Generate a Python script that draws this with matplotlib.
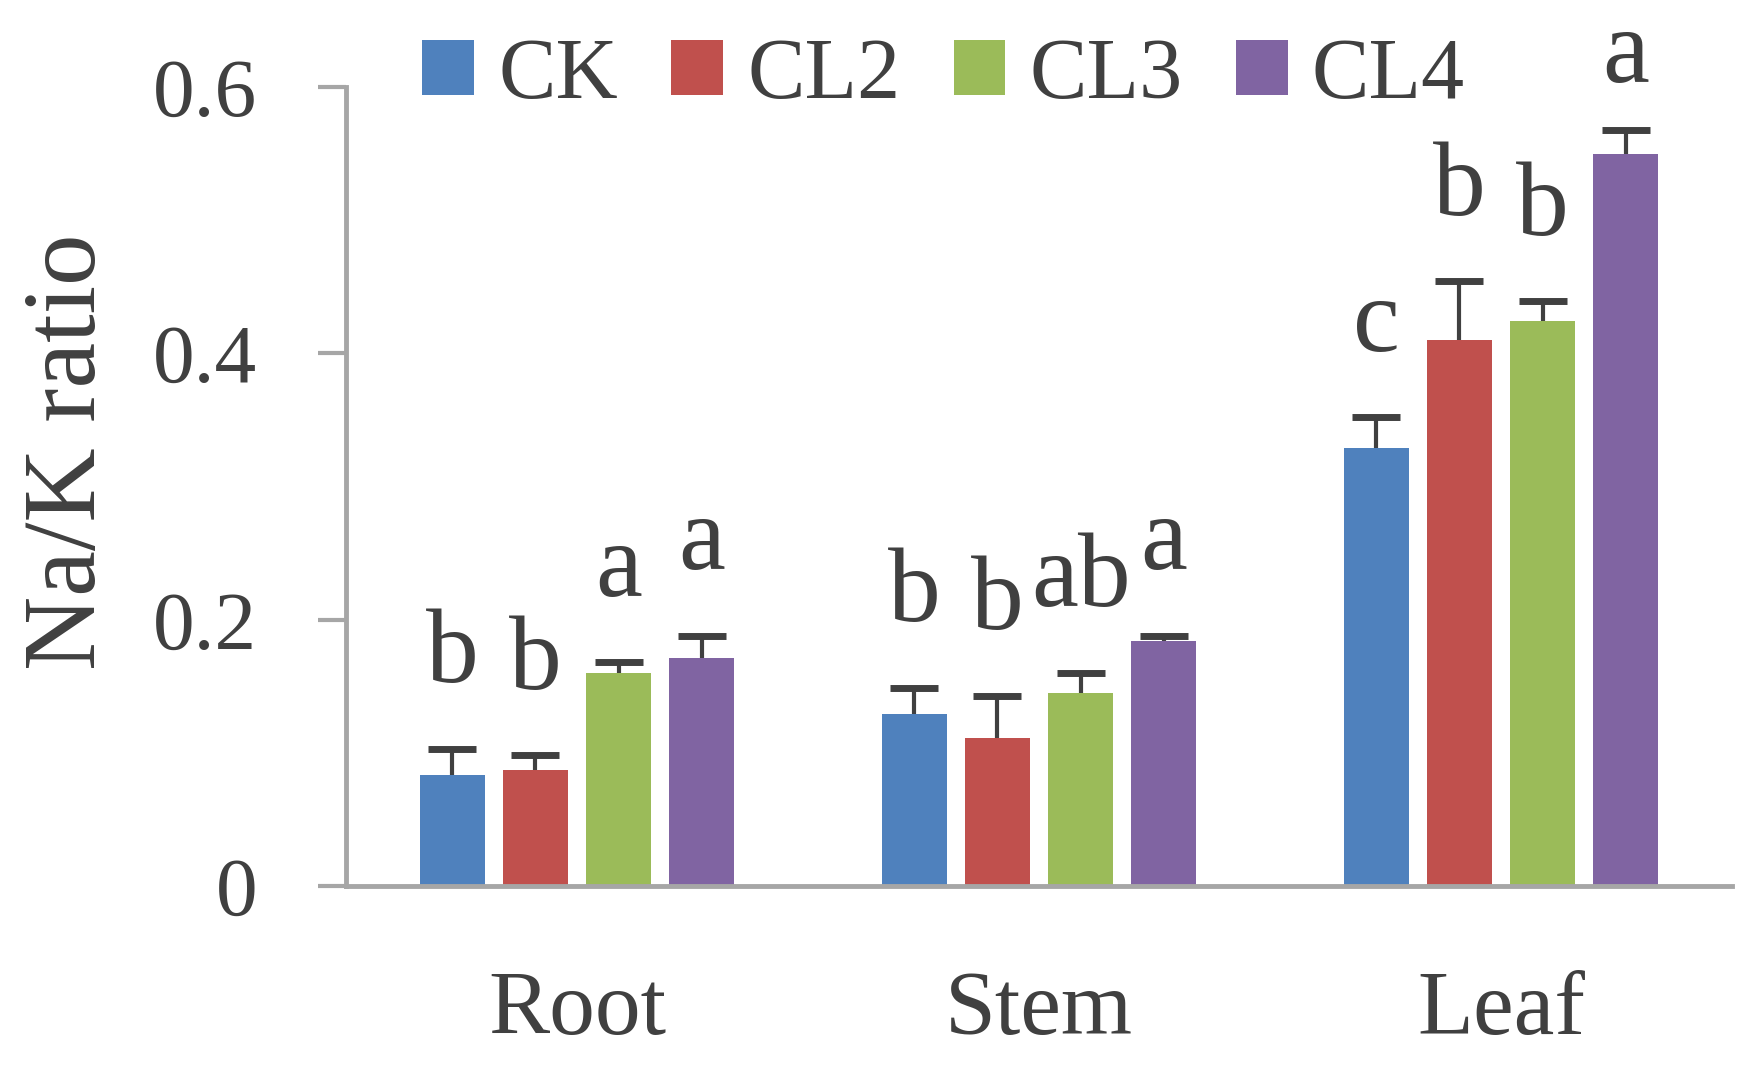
import numpy as np
import matplotlib
matplotlib.use("Agg")
import matplotlib.pyplot as plt

plt.rcParams['font.family'] = ['Liberation Serif', 'DejaVu Serif']

tissues = ['Root', 'Stem', 'Leaf']
lines = ['CK', 'CL2', 'CL3', 'CL4']
colors = ['#4F81BD', '#C0504D', '#9BBB59', '#8064A2']

# Na/K ratio per line, order: Root, Stem, Leaf
ck = [0.083, 0.129, 0.329]
cl2 = [0.087, 0.111, 0.410]
cl3 = [0.160, 0.145, 0.424]
cl4 = [0.171, 0.184, 0.550]

# error (upper only)
ck_err = [0.020, 0.020, 0.023]
cl2_err = [0.011, 0.032, 0.044]
cl3_err = [0.008, 0.015, 0.015]
cl4_err = [0.017, 0.004, 0.018]

ck_sig = ['b', 'b', 'c']
cl2_sig = ['b', 'b', 'b']
cl3_sig = ['a', 'ab', 'b']
cl4_sig = ['a', 'a', 'a']

means = [ck, cl2, cl3, cl4]
errs = [ck_err, cl2_err, cl3_err, cl4_err]
sigs = [ck_sig, cl2_sig, cl3_sig, cl4_sig]

txt = '#404040'
axc = '#A6A6A6'

fig = plt.figure(figsize=(17.64, 10.73), dpi=100)
ax = fig.add_axes([346/1764, 1-886/1073, 1386/1764, 799/1073])

x = np.arange(len(tissues))
w = 0.14
offs = [-0.27, -0.09, 0.09, 0.27]
for i in range(4):
    m = np.array(means[i])
    e = np.array(errs[i])
    ax.bar(x+offs[i], m, w, color=colors[i], label=lines[i], zorder=2)
    eb = ax.errorbar(x+offs[i], m, yerr=[np.zeros_like(e), e], fmt='none',
                     ecolor='#404040', elinewidth=3, capsize=17, capthick=5, zorder=3)
    # keep only the upper cap
    for cl in eb.lines[1]:
        if np.allclose(cl.get_ydata(), m):
            cl.set_visible(False)
    for j in range(3):
        ty = min(m[j]+e[j]+0.05, 0.604)   # keep the top letter inside the figure
        ax.text(x[j]+offs[i], ty, sigs[i][j], ha='center', va='baseline',
                fontsize=76, color=txt, clip_on=False)

ax.set_xlim(-0.5, 2.5)
ax.set_ylim(0, 0.6)
ax.set_yticks([0, 0.2, 0.4, 0.6])
ax.set_yticklabels(['0', '0.2', '0.4', '0.6'])
ax.set_xticks(x)
ax.set_xticklabels(tissues)

for s in ['top', 'right']:
    ax.spines[s].set_visible(False)
for s in ['left', 'bottom']:
    ax.spines[s].set_color(axc)
    ax.spines[s].set_linewidth(3.5)
ax.spines['bottom'].set_zorder(4)

ax.tick_params(axis='y', length=20, width=3, color=axc, labelsize=60,
               labelcolor=txt, pad=44)
ax.tick_params(axis='x', length=0, labelsize=66, labelcolor=txt, pad=61)

ax.set_ylabel('Na/K ratio', fontsize=74, color=txt)
ax.yaxis.set_label_coords(-0.165, 0.543)

fig.legend(loc='center', bbox_to_anchor=(0.535, 0.928), ncol=4, frameon=False,
           fontsize=62, handlelength=0.6, handleheight=0.6, handletextpad=0.28,
           columnspacing=0.62, labelcolor=txt)

fig.savefig('out.png', dpi=100)
